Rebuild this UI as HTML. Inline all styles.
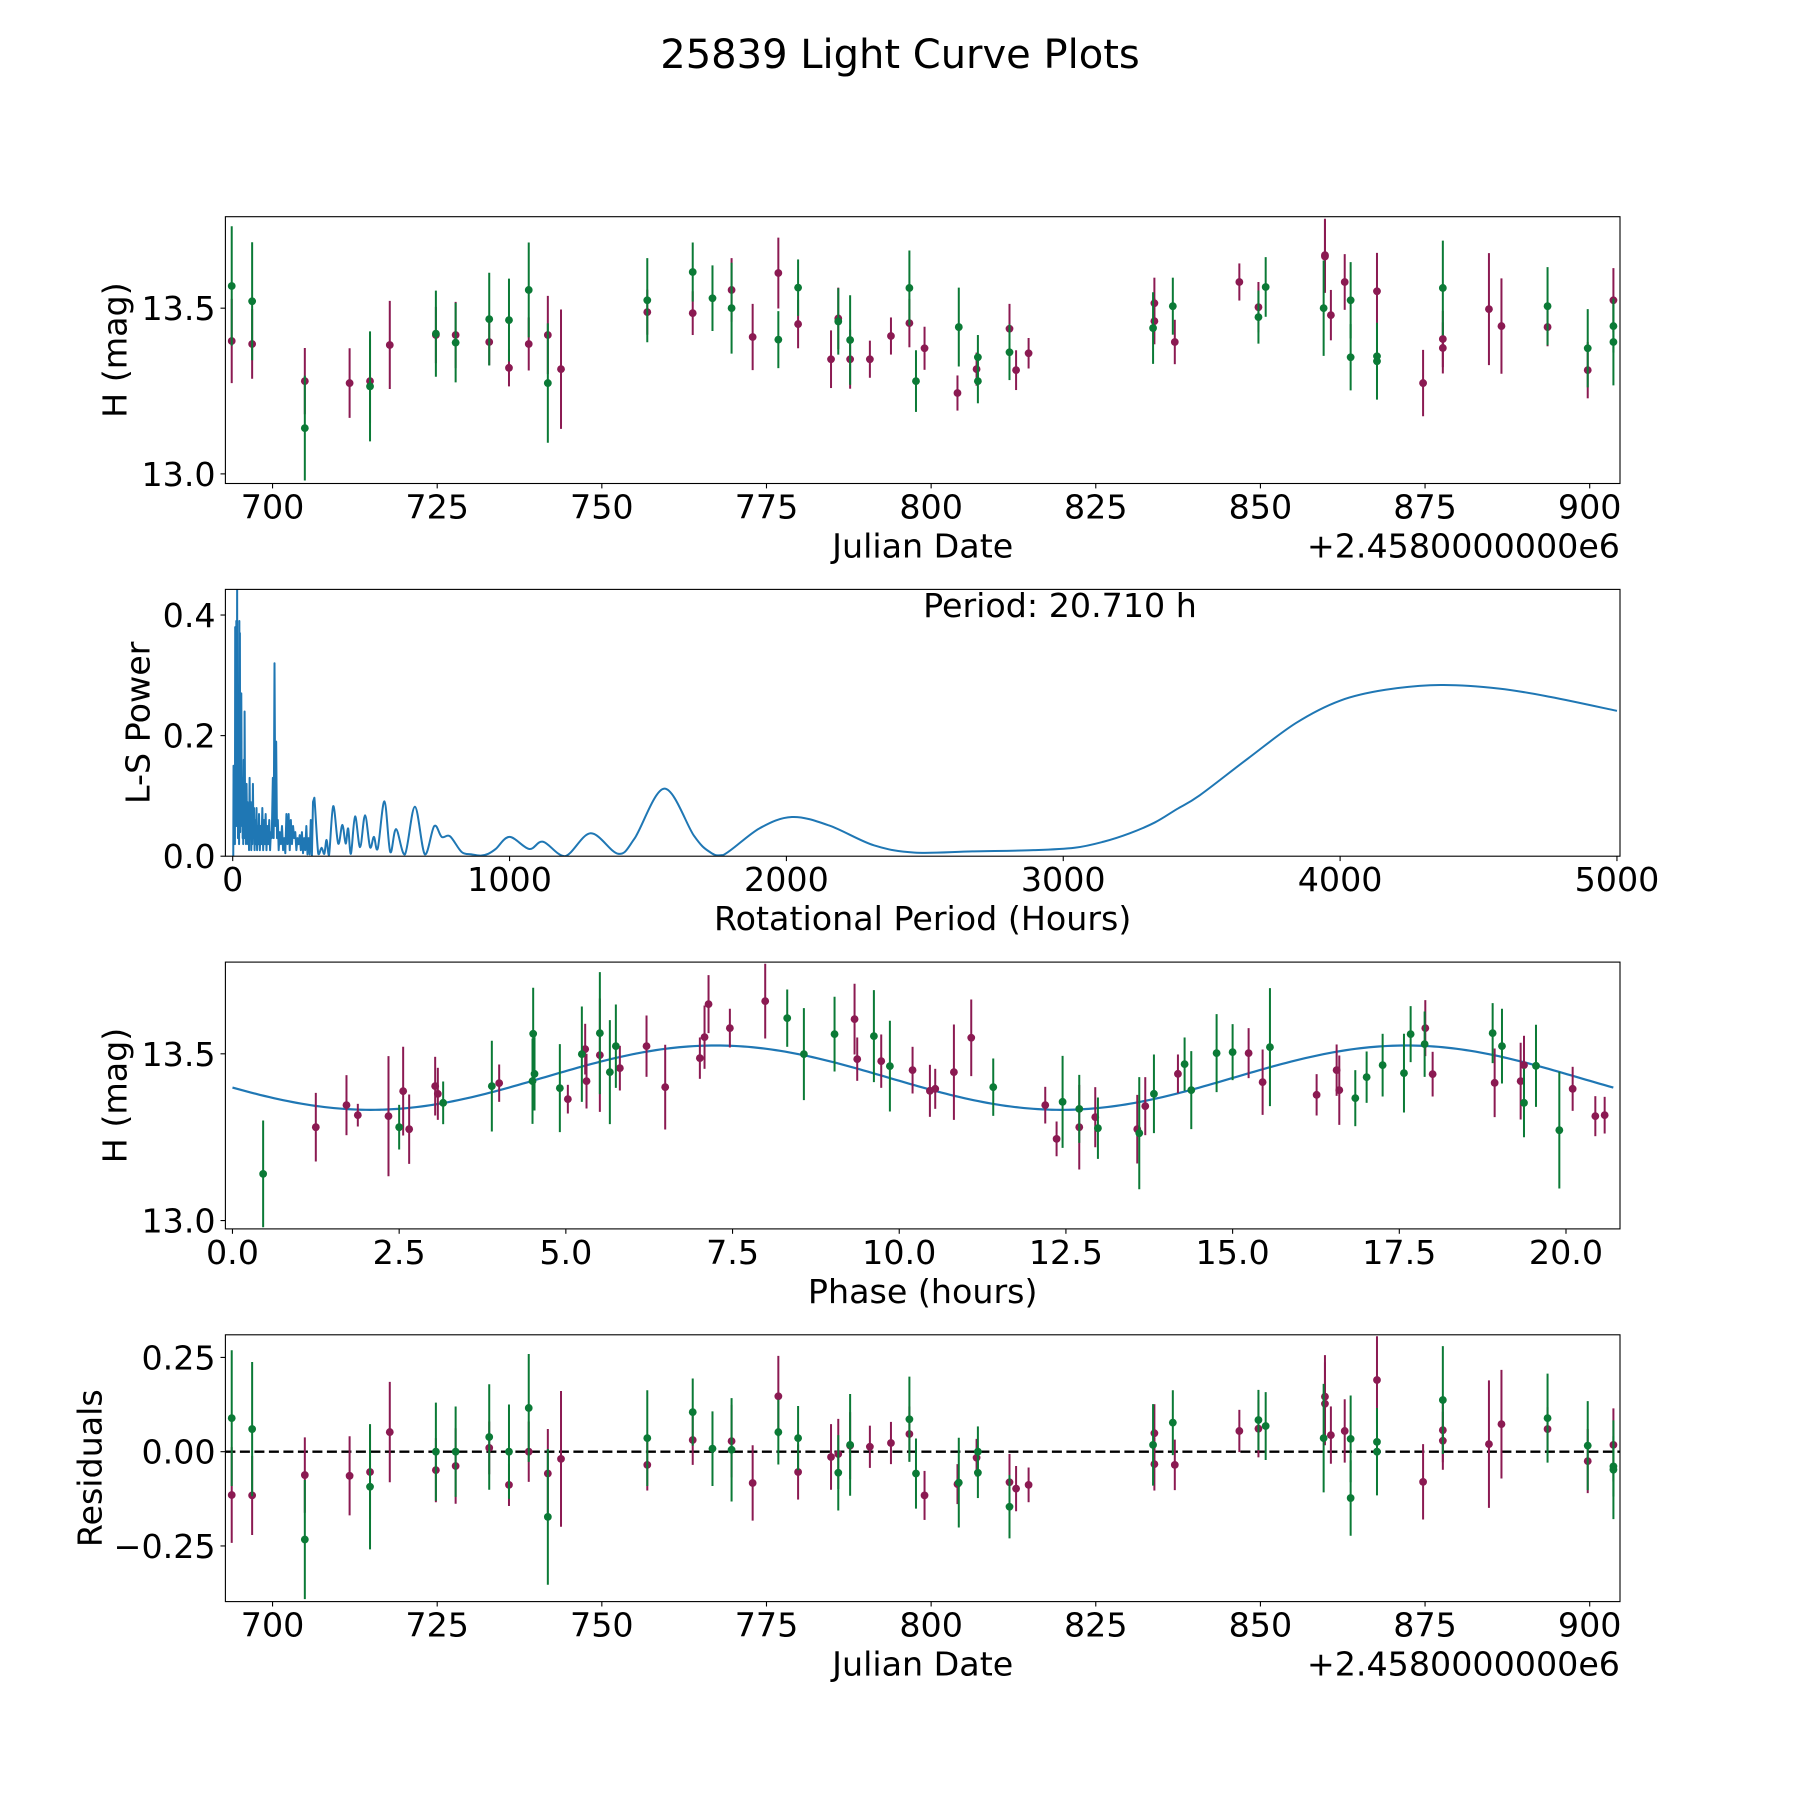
<!DOCTYPE html>
<html>
<head>
<meta charset="utf-8">
<style>
html,body{margin:0;padding:0;background:#fff;}
svg{display:block;}
text{font-family:"DejaVu Sans","Liberation Sans",sans-serif;fill:#000;}
</style>
</head>
<body>
<svg id="fig" xmlns="http://www.w3.org/2000/svg" width="1800" height="1800" viewBox="0 0 1800 1800">
<rect x="0" y="0" width="1800" height="1800" fill="#fff"/>
<text x="900" y="68" font-size="40" text-anchor="middle">25839 Light Curve Plots</text>
</svg>
<script>
// ---------- DATA ----------
const magDays = [693.8,696.9,704.9,711.7,714.8,717.8,724.8,727.8,732.9,735.9,738.9,741.8,743.8,756.9,763.8,769.7,772.9,776.8,779.8,784.8,785.9,787.7,790.7,793.9,796.7,799.0,804.0,806.9,811.9,812.9,814.8,833.9,833.9,837.0,846.8,849.7,859.8,859.8,860.7,862.8,867.7,874.7,877.7,877.7,884.7,886.6,893.6,899.7,903.6];
const magMags = [13.401,13.392,13.28,13.274,13.28,13.389,13.419,13.419,13.398,13.32,13.392,13.419,13.316,13.488,13.485,13.555,13.413,13.606,13.452,13.346,13.469,13.346,13.346,13.416,13.455,13.379,13.244,13.316,13.438,13.313,13.364,13.515,13.461,13.398,13.579,13.503,13.656,13.66,13.479,13.579,13.551,13.274,13.407,13.38,13.497,13.446,13.443,13.313,13.524];
const magErrs = [0.127,0.105,0.1,0.105,0.126,0.133,0.085,0.1,0.07,0.056,0.08,0.118,0.18,0.068,0.066,0.096,0.1,0.107,0.073,0.087,0.093,0.089,0.056,0.056,0.073,0.065,0.053,0.05,0.075,0.06,0.046,0.077,0.07,0.067,0.056,0.076,0.11,0.11,0.076,0.084,0.116,0.1,0.085,0.077,0.169,0.144,0.058,0.085,0.097];
const magResid = [-0.115,-0.116,-0.062,-0.064,-0.054,0.052,-0.049,-0.038,0.01,-0.088,0,-0.058,-0.019,-0.035,0.031,0.028,-0.083,0.147,-0.054,-0.014,-0.006,0.016,0.013,0.023,0.047,-0.116,-0.086,-0.016,-0.081,-0.098,-0.088,0.049,-0.033,-0.035,0.055,0.061,0.146,0.127,0.044,0.055,0.19,-0.08,0.057,0.029,0.02,0.073,0.06,-0.025,0.018];
const grnDays = [693.8,696.9,704.9,714.8,724.8,727.8,732.9,735.9,738.9,741.8,756.9,763.8,766.8,769.7,776.8,779.8,785.9,787.7,796.7,797.7,804.2,807.1,807.1,811.9,833.7,836.7,849.7,850.8,859.6,863.7,863.7,867.7,867.7,877.7,893.6,899.7,903.6,903.6];
const grnMags = [13.567,13.521,13.138,13.264,13.423,13.396,13.467,13.464,13.555,13.274,13.524,13.609,13.53,13.5,13.405,13.562,13.46,13.404,13.561,13.28,13.443,13.352,13.28,13.367,13.44,13.506,13.473,13.564,13.5,13.524,13.352,13.355,13.34,13.561,13.506,13.379,13.446,13.398];
const grnErrs = [0.18,0.178,0.158,0.166,0.13,0.12,0.14,0.125,0.143,0.18,0.127,0.089,0.099,0.137,0.086,0.085,0.1,0.135,0.113,0.093,0.119,0.067,0.067,0.084,0.108,0.086,0.08,0.09,0.144,0.115,0.1,0.08,0.116,0.143,0.118,0.118,0.08,0.131];
const grnResid = [0.089,0.06,-0.233,-0.093,0,0,0.039,0,0.116,-0.173,0.036,0.105,0.008,0.005,0.052,0.036,-0.056,0.018,0.086,-0.058,-0.082,0,-0.056,-0.146,0.018,0.077,0.084,0.068,0.036,0.034,-0.123,0.026,0,0.137,0.089,0.016,-0.039,-0.048];

const lsPeriods = [2,3,4,5,6,7,8,9,10,11,12,13,14,15,16,17,18,19,20,21,22,23,24,25,26,27,28,30,31,33,34,36,37,38,40,42,43,45,46,48,50,52,53,55,57,59,61,63,65,67,69,71,73,75,77,79,82,84,86,88,90,93,95,98,101,104,107,110,113,116,119,122,125,128,132,135,138,141,145,148,151,154,157,160,163,166,170,174,178,182,186,190,194,198,202,206,210,214,218,222,226,230,234,238,242,246,250,254,258,262,266,270,274,278,282,286,290,295,309,321,331,339,348,363,381,396,408,417,427,442,460,478,496,510,524,548,569,590,622,658,694,728,755,785,827,863,896,923,950,1000,1071,1121,1200,1293,1392,1451,1559,1666,1720,1772,1902,2020,2154,2316,2464,2671,2893,3041,3145,3240,3331,3410,3493,3667,3841,4000,4164,4363,4575,4761,5000];
const lsPower = [0.0,0.15,0.02,0.14,0.03,0.10,0.02,0.38,0.05,0.30,0.10,0.39,0.05,0.20,0.45,0.08,0.25,0.03,0.16,0.06,0.12,0.02,0.39,0.10,0.37,0.04,0.20,0.06,0.27,0.05,0.13,0.03,0.10,0.02,0.16,0.03,0.24,0.05,0.08,0.02,0.12,0.04,0.09,0.02,0.07,0.01,0.13,0.03,0.09,0.01,0.06,0.02,0.12,0.03,0.08,0.01,0.06,0.02,0.08,0.01,0.05,0.02,0.07,0.01,0.05,0.02,0.08,0.01,0.06,0.02,0.07,0.01,0.05,0.02,0.06,0.01,0.04,0.03,0.13,0.03,0.32,0.05,0.19,0.03,0.06,0.01,0.04,0.02,0.05,0.01,0.03,0.005,0.07,0.02,0.07,0.01,0.06,0.02,0.05,0.03,0.04,0.01,0.03,0.02,0.035,0.01,0.04,0.005,0.03,0.01,0.05,0.003,0.03,0.003,0.06,0.0,0.09,0.097,0.004,0.014,0.004,0.027,0.002,0.083,0.021,0.052,0.021,0.046,0.004,0.066,0.015,0.068,0.015,0.032,0.013,0.091,0.007,0.045,0.003,0.082,0.003,0.05,0.032,0.033,0.007,0.003,0.001,0.004,0.012,0.032,0.012,0.024,0.0,0.038,0.004,0.029,0.112,0.034,0.008,0.002,0.046,0.065,0.051,0.018,0.006,0.008,0.01,0.014,0.024,0.038,0.056,0.078,0.101,0.162,0.221,0.258,0.276,0.284,0.278,0.264,0.241];
const bestPeriodLabel = "Period: 20.710 h";

const phMagPhase = [1.25,1.71,1.88,2.34,2.56,2.65,3.04,3.08,4.0,5.03,5.29,5.31,5.51,5.81,6.21,6.49,7.01,7.08,7.14,7.46,7.99,9.33,9.37,9.73,10.2,10.46,10.54,10.82,11.08,12.19,12.36,12.7,12.94,13.57,13.69,14.18,15.24,15.45,16.26,16.56,16.6,17.89,18.0,18.93,19.32,19.37,20.1,20.44,20.58];
const phMagMags = [13.28,13.346,13.316,13.313,13.388,13.274,13.403,13.38,13.412,13.364,13.514,13.418,13.496,13.457,13.523,13.4,13.487,13.55,13.649,13.577,13.658,13.604,13.484,13.478,13.451,13.389,13.395,13.445,13.548,13.346,13.245,13.28,13.31,13.274,13.343,13.44,13.502,13.415,13.377,13.451,13.391,13.577,13.439,13.413,13.418,13.466,13.395,13.313,13.316];
const phMagErrs = [0.103,0.09,0.034,0.18,0.133,0.104,0.088,0.078,0.056,0.043,0.076,0.082,0.17,0.067,0.092,0.127,0.062,0.095,0.087,0.058,0.112,0.106,0.065,0.08,0.07,0.078,0.06,0.143,0.115,0.055,0.052,0.127,0.09,0.103,0.087,0.058,0.075,0.098,0.062,0.077,0.104,0.084,0.067,0.103,0.115,0.088,0.066,0.06,0.055];
const phGrnPhase = [0.46,2.5,3.16,3.89,4.5,4.51,4.53,4.91,5.24,5.51,5.66,5.75,8.32,8.57,9.03,9.62,9.86,11.41,12.45,12.7,12.98,13.6,13.82,14.28,14.38,14.76,15.0,15.56,16.84,17.01,17.25,17.57,17.67,17.88,18.9,19.04,19.37,19.55,19.9];
const phGrnMags = [13.14,13.28,13.353,13.403,13.418,13.56,13.44,13.397,13.499,13.562,13.445,13.523,13.607,13.499,13.559,13.553,13.463,13.4,13.356,13.335,13.277,13.262,13.38,13.469,13.391,13.502,13.505,13.52,13.367,13.43,13.466,13.442,13.559,13.529,13.562,13.523,13.353,13.464,13.271];
const phGrnErrs = [0.16,0.067,0.064,0.136,0.128,0.138,0.11,0.132,0.143,0.183,0.156,0.125,0.086,0.138,0.112,0.138,0.136,0.086,0.138,0.102,0.092,0.168,0.118,0.08,0.117,0.117,0.084,0.177,0.084,0.077,0.094,0.118,0.084,0.098,0.09,0.112,0.103,0.123,0.175];
const modelMean = [13.4285];
const modelAmp = [0.0965];
const modelHarmonicPeriod = [10.355];
const modelPeakPhase = [7.25];

const jdTicks = [700,725,750,775,800,825,850,875,900];
const magTicks = [13.0,13.5];
const magTickLabels = ["13.0","13.5"];
const lsXTicks = [0,1000,2000,3000,4000,5000];
const lsYTicks = [0.0,0.2,0.4];
const lsYTickLabels = ["0.0","0.2","0.4"];
const phaseTicks = [0,2.5,5,7.5,10,12.5,15,17.5,20];
const phaseTickLabels = ["0.0","2.5","5.0","7.5","10.0","12.5","15.0","17.5","20.0"];
const residTicks = [-0.25,0,0.25];
const residTickLabels = ["\u22120.25","0.00","0.25"];

// ---------- DRAWING ----------
const NS = "http://www.w3.org/2000/svg";
const svg = document.getElementById("fig");
const MAG = "#8b1a52", GRN = "#0b7a36", BLUE = "#1f77b4";
const L = 225.4, R = 1620, H = 266.8;
const TOPS = [216.7, 589.4, 962.1, 1334.8];
const FS = 33.3;

function el(tag, attrs, parent) {
  const e = document.createElementNS(NS, tag);
  for (const k in attrs) e.setAttribute(k, attrs[k]);
  (parent || svg).appendChild(e);
  return e;
}
function scale(d0, d1, r0, r1) { return v => r0 + (v - d0) * (r1 - r0) / (d1 - d0); }

function makePanel(idx, xd, yd, name) {
  const top = TOPS[idx], bottom = top + H;
  const g = el("g", {});
  
  
  return { g, top, bottom, x: scale(xd[0], xd[1], L, R), y: scale(yd[0], yd[1], bottom, top) };
}
function frame(p) {
  const r = el("rect", { x: L, y: p.top, width: R - L, height: H, fill: "none", stroke: "#000", "stroke-width": 1.1 }, p.g);
  
  
}
function xTicks(p, vals, labels) {
  vals.forEach((v, i) => {
    const x = p.x(v);
    const t = el("line", { x1: x, x2: x, y1: p.bottom, y2: p.bottom + 4.9, stroke: "#000", "stroke-width": 1.1 }, p.g);
    
    
    const tx = el("text", { x: x, y: p.bottom + 35, "font-size": FS, "text-anchor": "middle" }, p.g);
    tx.textContent = labels[i];
    
    
  });
}
function yTicks(p, vals, labels) {
  vals.forEach((v, i) => {
    const y = p.y(v);
    const t = el("line", { x1: L - 4.9, x2: L, y1: y, y2: y, stroke: "#000", "stroke-width": 1.1 }, p.g);
    
    
    const tx = el("text", { x: L - 9.8, y: y + 12, "font-size": FS, "text-anchor": "end" }, p.g);
    tx.textContent = labels[i];
    
    
  });
}
function xLabel(p, s, name) {
  const t = el("text", { x: (L + R) / 2, y: p.bottom + 74, "font-size": FS, "text-anchor": "middle" }, p.g);
  t.textContent = s;
  
  
}
function yLabel(p, s, cx, name) {
  const cy = (p.top + p.bottom) / 2;
  const t = el("text", { x: cx, y: cy, "font-size": FS, "text-anchor": "middle", "dominant-baseline": "central", transform: "rotate(-90 " + cx + " " + cy + ")" }, p.g);
  t.textContent = s;
  
  
}
function offsetText(p) {
  const t = el("text", { x: R, y: p.bottom + 74, "font-size": FS, "text-anchor": "end" }, p.g);
  t.textContent = "+2.4580000000e6";
  
  
}
function clip(p, id) {
  const cp = el("clipPath", { id: id }, p.g);
  el("rect", { x: L, y: p.top, width: R - L, height: H }, cp);
  return el("g", { "clip-path": "url(#" + id + ")" }, p.g);
}
function errPoints(p, cg, xs, ys, es, color, name) {
  xs.forEach((xv, i) => {
    const x = p.x(xv);
    const ln = el("line", { x1: x, x2: x, y1: p.y(ys[i] - es[i]), y2: p.y(ys[i] + es[i]), stroke: color, "stroke-width": 2 }, cg);
    
    
    const c = el("circle", { cx: x, cy: p.y(ys[i]), r: 3.9, fill: color }, cg);
    
    
  });
}

const p1 = makePanel(0, [692.84, 904.6], [12.971, 13.776], "light-curve-panel");
const c1 = clip(p1, "cp1");
errPoints(p1, c1, magDays, magMags, magErrs, MAG, "magenta");
errPoints(p1, c1, grnDays, grnMags, grnErrs, GRN, "green");
frame(p1);
xTicks(p1, jdTicks, jdTicks.map(String));
yTicks(p1, magTicks, magTickLabels);
xLabel(p1, "Julian Date", "x-axis-title-julian-date");
yLabel(p1, "H (mag)", 115, "y-axis-title-h-mag");
offsetText(p1);

const p2 = makePanel(1, [-26.4, 5011], [0, 0.4425], "periodogram-panel");
const c2 = clip(p2, "cp2");
(function () {
  const pts = lsPeriods.map((v, i) => [p2.x(v), p2.y(lsPower[i])]);
  let d = "M" + pts[0][0].toFixed(2) + "," + pts[0][1].toFixed(2);
  for (let i = 1; i < pts.length; i++) {
    if (lsPeriods[i] <= 300) {
      d += " L" + pts[i][0].toFixed(2) + "," + pts[i][1].toFixed(2);
    } else {
      const p0 = pts[Math.max(0, i - 2)], pa = pts[i - 1], pb = pts[i], p3 = pts[Math.min(pts.length - 1, i + 1)];
      const t = 1 / 6;
      const cp1x = pa[0] + (pb[0] - p0[0]) * t, cp1y = Math.min(p2.bottom, pa[1] + (pb[1] - p0[1]) * t);
      const cp2x = pb[0] - (p3[0] - pa[0]) * t, cp2y = Math.min(p2.bottom, pb[1] - (p3[1] - pa[1]) * t);
      d += " C" + cp1x.toFixed(2) + "," + cp1y.toFixed(2) + " " + cp2x.toFixed(2) + "," + cp2y.toFixed(2) + " " + pb[0].toFixed(2) + "," + pb[1].toFixed(2);
    }
  }
  const path = el("path", { d: d, fill: "none", stroke: BLUE, "stroke-width": 2, "stroke-linejoin": "round" }, c2);
  
  
})();
frame(p2);
xTicks(p2, lsXTicks, lsXTicks.map(String));
yTicks(p2, lsYTicks, lsYTickLabels);
xLabel(p2, "Rotational Period (Hours)", "x-axis-title-rotational-period");
yLabel(p2, "L-S Power", 138, "y-axis-title-ls-power");
(function () {
  const t = el("text", { x: 1060, y: 617, "font-size": FS, "text-anchor": "middle" }, p2.g);
  t.textContent = bestPeriodLabel;
  
  
})();

const p3 = makePanel(2, [-0.106, 20.81], [12.975, 13.775], "phase-panel");
const c3 = clip(p3, "cp3");
(function () {
  let d = "";
  for (let k = 0; k <= 300; k++) {
    const ph = 20.71 * k / 300;
    const m = modelMean[0] + modelAmp[0] * Math.cos(2 * Math.PI * (ph - modelPeakPhase[0]) / modelHarmonicPeriod[0]);
    d += (k ? " L" : "M") + p3.x(ph).toFixed(2) + "," + p3.y(m).toFixed(2);
  }
  const path = el("path", { d: d, fill: "none", stroke: BLUE, "stroke-width": 2.2 }, c3);
  
  
})();
errPoints(p3, c3, phMagPhase, phMagMags, phMagErrs, MAG, "magenta-phase");
errPoints(p3, c3, phGrnPhase, phGrnMags, phGrnErrs, GRN, "green-phase");
frame(p3);
xTicks(p3, phaseTicks, phaseTickLabels);
yTicks(p3, magTicks, magTickLabels);
xLabel(p3, "Phase (hours)", "x-axis-title-phase");
yLabel(p3, "H (mag)", 115, "y-axis-title-h-mag-phase");

const p4 = makePanel(3, [692.84, 904.6], [-0.3976, 0.31], "residuals-panel");
const c4 = clip(p4, "cp4");
(function () {
  const ln = el("line", { x1: L, x2: R, y1: p4.y(0), y2: p4.y(0), stroke: "#000", "stroke-width": 2.4, "stroke-dasharray": "10 4.5" }, c4);
  
  
})();
errPoints(p4, c4, magDays, magResid, magErrs, MAG, "magenta-residual");
errPoints(p4, c4, grnDays, grnResid, grnErrs, GRN, "green-residual");
frame(p4);
xTicks(p4, jdTicks, jdTicks.map(String));
yTicks(p4, residTicks, residTickLabels);
xLabel(p4, "Julian Date", "x-axis-title-julian-date-residuals");
yLabel(p4, "Residuals", 90, "y-axis-title-residuals");
offsetText(p4);
</script>
</body>
</html>
